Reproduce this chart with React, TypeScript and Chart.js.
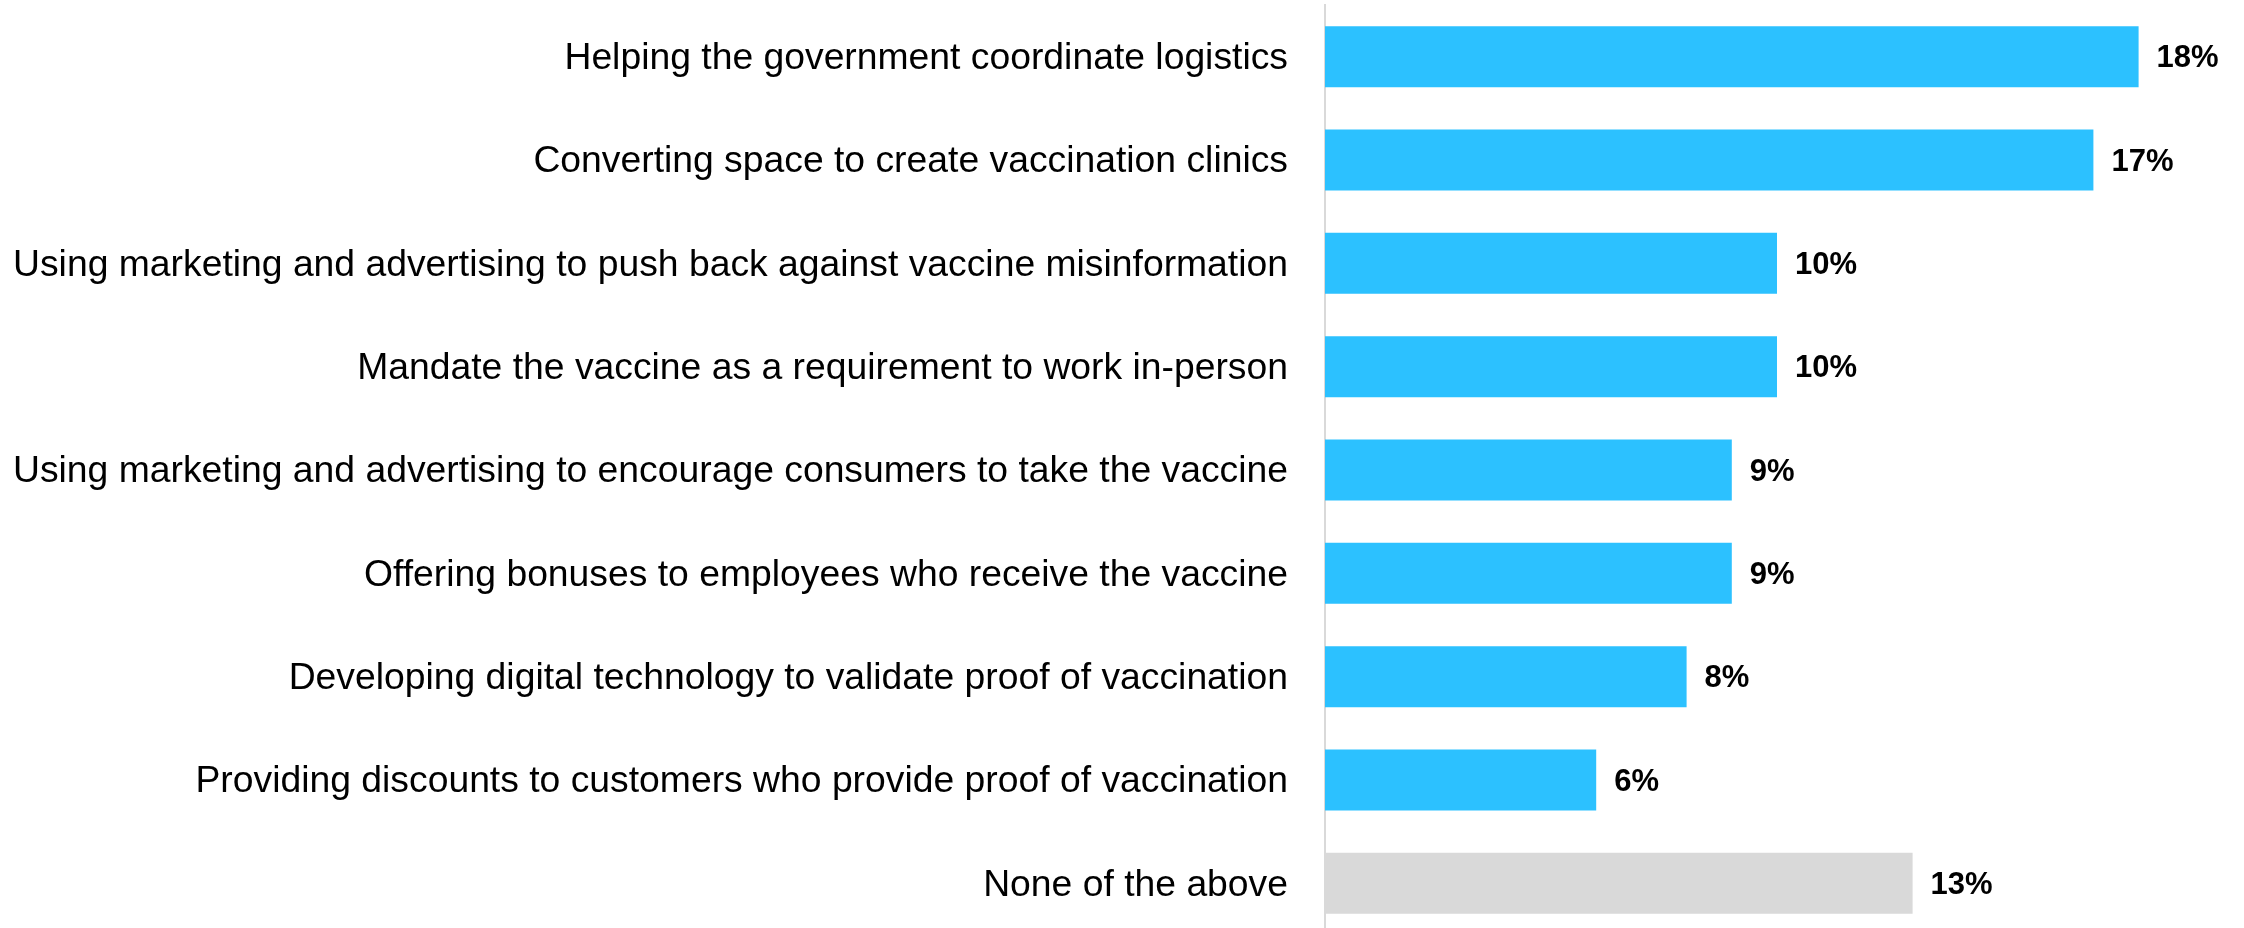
import React, { useEffect, useRef } from "react";
import { Chart, registerables } from "chart.js";

Chart.register(...registerables);

const categories = [
  "Helping the government coordinate logistics",
  "Converting space to create vaccination clinics",
  "Using marketing and advertising to push back against vaccine misinformation",
  "Mandate the vaccine as a requirement to work in-person",
  "Using marketing and advertising to encourage consumers to take the vaccine",
  "Offering bonuses to employees who receive the vaccine",
  "Developing digital technology to validate proof of vaccination",
  "Providing discounts to customers who provide proof of vaccination",
  "None of the above",
];

const values = [18, 17, 10, 10, 9, 9, 8, 6, 13];

const barColors = [
  "#2CC1FF",
  "#2CC1FF",
  "#2CC1FF",
  "#2CC1FF",
  "#2CC1FF",
  "#2CC1FF",
  "#2CC1FF",
  "#2CC1FF",
  "#D9D9D9",
];

const FONT = "'Liberation Sans', Arial, sans-serif";

const valueLabelPlugin = {
  id: "valueLabels",
  afterDatasetsDraw(chart: any) {
    const ctx = chart.ctx;
    const meta = chart.getDatasetMeta(0);
    ctx.save();
    ctx.font = `bold 31px ${FONT}`;
    ctx.fillStyle = "#000000";
    ctx.textAlign = "left";
    ctx.textBaseline = "middle";
    meta.data.forEach((bar: any, i: number) => {
      ctx.fillText(`${values[i]}%`, bar.x + 18, bar.y + 2);
    });
    ctx.restore();
  },
};

export default function App() {
  const canvasRef = useRef<HTMLCanvasElement | null>(null);

  useEffect(() => {
    if (!canvasRef.current) return;
    const chart = new Chart(canvasRef.current, {
      type: "bar",
      data: {
        labels: categories,
        datasets: [
          {
            data: values,
            backgroundColor: barColors,
            borderWidth: 0,
            categoryPercentage: 1,
            barPercentage: 0.59,
          },
        ],
      },
      options: {
        indexAxis: "y",
        animation: false,
        responsive: false,
        devicePixelRatio: 1,
        layout: { padding: { top: 5, bottom: 5, left: 0, right: 15 } },
        plugins: {
          legend: { display: false },
          tooltip: { enabled: false },
        },
        scales: {
          x: {
            display: false,
            min: 0,
            max: 20,
          },
          y: {
            afterFit: (s: any) => {
              s.width = 1325;
              s.paddingTop = 0;
              s.paddingBottom = 0;
            },
            grid: { display: false, drawTicks: false },
            border: { display: true, color: "#D9D9D9", width: 2 },
            ticks: {
              color: "#000000",
              padding: 37,
              labelOffset: 2,
              font: { family: FONT, size: 37.3 },
            },
          },
        },
      },
      plugins: [valueLabelPlugin],
    });
    return () => chart.destroy();
  }, []);

  return (
    <div
      style={{
        position: "fixed",
        left: 0,
        top: 0,
        width: 2244,
        height: 928,
        overflow: "hidden",
        background: "#ffffff",
      }}
    >
      <canvas ref={canvasRef} width={2244} height={940} style={{ display: "block" }} />
    </div>
  );
}
